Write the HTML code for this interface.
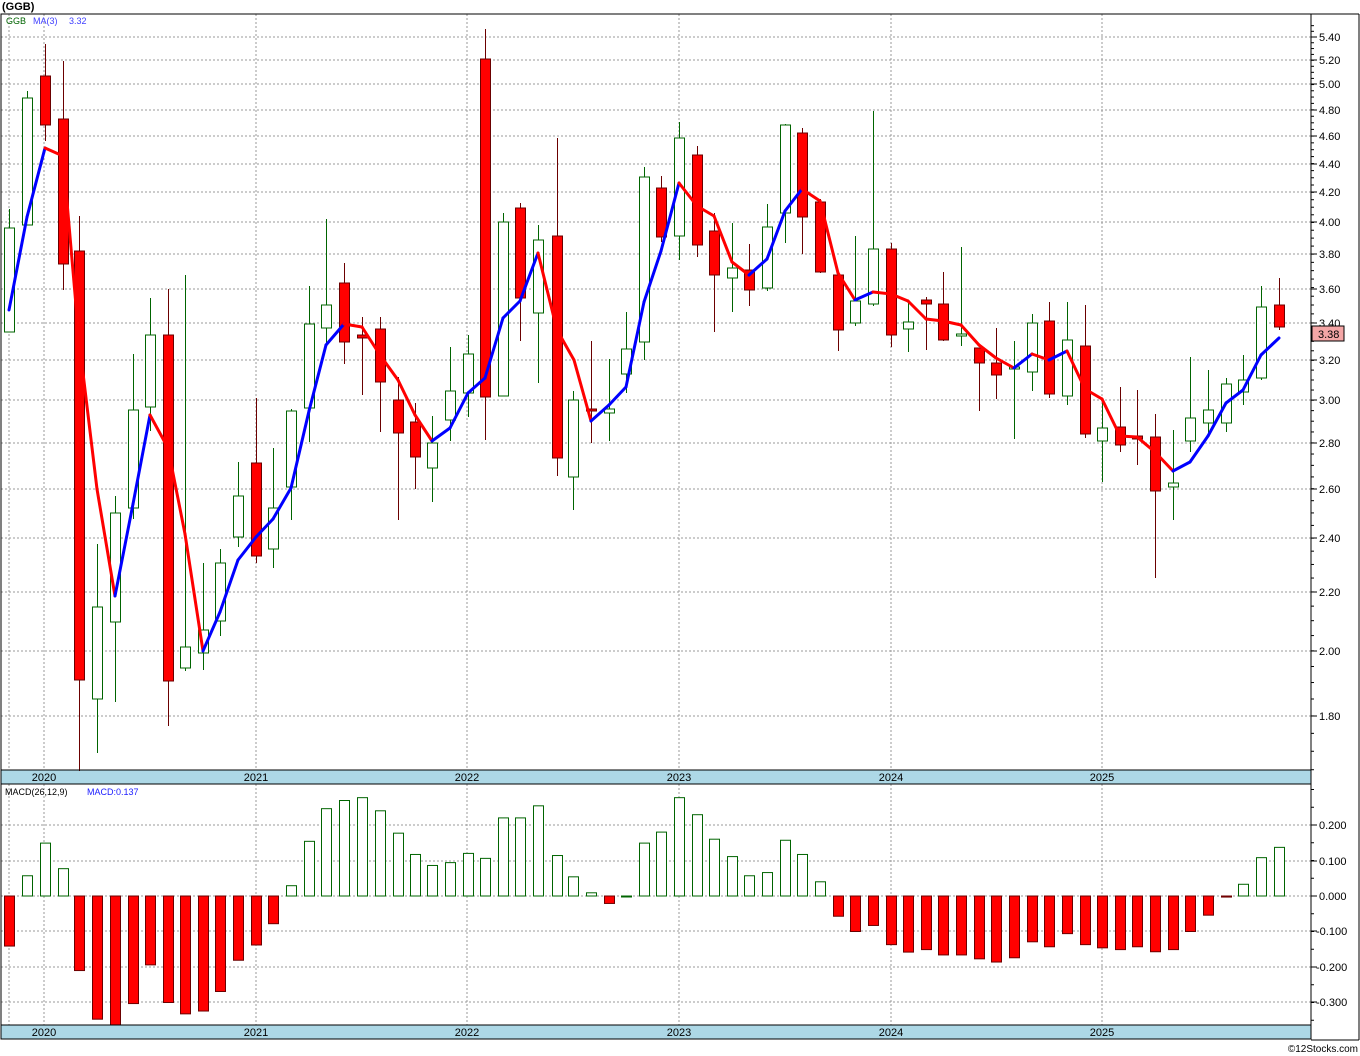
<!DOCTYPE html>
<html><head><meta charset="utf-8"><style>
html,body{margin:0;padding:0;background:#fff;}
svg{display:block;font-family:"Liberation Sans",sans-serif;}
</style></head><body>
<svg id="s" width="1360" height="1056" viewBox="0 0 1360 1056" xmlns="http://www.w3.org/2000/svg">
<rect x="0" y="0" width="1360" height="1056" fill="#fff"/>
<g id="grid"></g>
<g id="bands">
<rect x="1" y="770" width="1310" height="14" fill="#add8e6" stroke="#000" stroke-width="1"/>
<rect x="1" y="1025" width="1310" height="14" fill="#add8e6" stroke="#000" stroke-width="1"/>
</g>
<g id="plot"></g>
<rect x="1" y="14" width="1310" height="756" fill="none" stroke="#000" stroke-width="1"/>
<rect x="1" y="784" width="1310" height="241" fill="none" stroke="#000" stroke-width="1"/>
<line x1="1311" y1="14" x2="1359" y2="14" stroke="#000"/>
<line x1="1359" y1="14" x2="1359" y2="1040" stroke="#000"/>
<line x1="1311" y1="1040" x2="1359" y2="1040" stroke="#000"/>
<g id="ticks"></g>
<text x="2" y="10" font-size="11" font-weight="bold" fill="#000">(GGB)</text>
<text x="6" y="24" font-size="9" fill="#006400">GGB</text>
<text x="33" y="24" font-size="9" fill="#4040ff">MA(3)</text>
<text x="69" y="24" font-size="9" fill="#4040ff">3.32</text>
<text x="5" y="795" font-size="9" fill="#000">MACD(26,12,9)</text>
<text x="87" y="795" font-size="9" fill="#2020ff">MACD:0.137</text>
<g font-size="11" fill="#000" text-anchor="middle">
<text x="44" y="781">2020</text><text x="256" y="781">2021</text><text x="467" y="781">2022</text><text x="679" y="781">2023</text><text x="891" y="781">2024</text><text x="1102" y="781">2025</text>
<text x="44" y="1036">2020</text><text x="256" y="1036">2021</text><text x="467" y="1036">2022</text><text x="679" y="1036">2023</text><text x="891" y="1036">2024</text><text x="1102" y="1036">2025</text>
</g>
<g font-size="11" fill="#000">
<text x="1319" y="41">5.40</text><text x="1319" y="64">5.20</text><text x="1319" y="88">5.00</text><text x="1319" y="114">4.80</text><text x="1319" y="140">4.60</text><text x="1319" y="168">4.40</text><text x="1319" y="196">4.20</text><text x="1319" y="226">4.00</text><text x="1319" y="258">3.80</text><text x="1319" y="293">3.60</text><text x="1319" y="327">3.40</text><text x="1319" y="364">3.20</text><text x="1319" y="404">3.00</text><text x="1319" y="447">2.80</text><text x="1319" y="493">2.60</text><text x="1319" y="542">2.40</text><text x="1319" y="596">2.20</text><text x="1319" y="655">2.00</text><text x="1319" y="720">1.80</text>
<text x="1319" y="829">0.200</text><text x="1319" y="865">0.100</text><text x="1319" y="900">0.000</text><text x="1316" y="935">-0.100</text><text x="1316" y="971">-0.200</text><text x="1316" y="1006">-0.300</text>
</g>
<rect x="1312" y="326" width="32" height="15" fill="#f4a6a6" stroke="#000" stroke-width="1"/>
<text x="1318" y="338" font-size="11" fill="#000">3.38</text>
<text x="1358" y="1052" font-size="10" fill="#000" text-anchor="end">©12Stocks.com</text>
</svg>
<script>
var NS="http://www.w3.org/2000/svg";
function el(p,t,a){var e=document.createElementNS(NS,t);for(var k in a)e.setAttribute(k,a[k]);p.appendChild(e);return e;}
var grid=document.getElementById("grid"),plot=document.getElementById("plot"),ticks=document.getElementById("ticks");
var hy=[37,60,84,110,136,164,192,222,254,289,323,360,400,443,489,538,592,651,716];
hy.forEach(function(y){el(grid,"line",{x1:1,y1:y,x2:1311,y2:y,stroke:"#999","stroke-dasharray":"2,2","stroke-width":1});
el(ticks,"line",{x1:1311,y1:y,x2:1317,y2:y,stroke:"#000"});});
[825,861,896,931,967,1002].forEach(function(y){el(grid,"line",{x1:1,y1:y,x2:1311,y2:y,stroke:"#999","stroke-dasharray":"2,2"});el(ticks,"line",{x1:1311,y1:y,x2:1317,y2:y,stroke:"#000"});});
[9,44,256,467,679,891,1102].forEach(function(x){el(grid,"line",{x1:x,y1:14,x2:x,y2:770,stroke:"#999","stroke-dasharray":"2,2"});el(grid,"line",{x1:x,y1:784,x2:x,y2:1025,stroke:"#999","stroke-dasharray":"2,2"});});
for(var p=1.6;p<=5.5;p+=0.05){var y=37+(Math.log(5.4)-Math.log(p))*618;if(y>14&&y<770)el(ticks,"line",{x1:1311,y1:y,x2:1314,y2:y,stroke:"#000"});}
for(var v=-0.35;v<=0.3;v+=0.05){var y=896-v*355;el(ticks,"line",{x1:1311,y1:y,x2:1314,y2:y,stroke:"#000"});}
var C=[[9,209,228,332,332,'g'],[27,91,98,225,225,'g'],[45,44,76,125,141,'r'],[63,61,119,264,290,'r'],[79,216,251,680,771,'r'],[97,544,607,699,753,'g'],[115,496,513,622,702,'g'],[133,354,410,508,519,'g'],[150,298,335,407,431,'g'],[168,289,335,681,726,'r'],[185,275,647,668,671,'g'],[203,563,630,653,670,'g'],[220,549,563,621,636,'g'],[238,462,496,537,547,'g'],[256,398,463,556,563,'r'],[273,448,508,549,568,'g'],[291,409,411,487,520,'g'],[309,286,324,408,442,'g'],[326,219,305,328,346,'g'],[344,263,283,342,364,'r'],[362,317,335,338,395,'r'],[380,317,329,382,432,'r'],[398,377,400,433,520,'r'],[415,403,422,457,489,'r'],[432,416,443,468,502,'g'],[450,347,391,420,441,'g'],[468,335,354,393,417,'g'],[485,29,59,397,440,'r'],[503,213,222,396,396,'g'],[520,203,208,298,341,'r'],[538,225,240,313,383,'g'],[557,138,236,458,476,'r'],[573,391,400,477,510,'g'],[591,341,409,411,443,'r'],[609,359,409,413,441,'g'],[626,312,349,374,393,'g'],[644,167,177,342,360,'g'],[661,176,188,237,242,'r'],[679,122,138,236,260,'g'],[697,146,155,245,257,'r'],[714,213,231,275,332,'r'],[732,223,268,278,312,'g'],[749,244,270,290,306,'r'],[767,204,227,288,291,'g'],[785,124,125,213,243,'g'],[802,128,133,217,254,'r'],[820,199,202,272,273,'r'],[838,275,275,330,351,'r'],[855,236,301,323,326,'g'],[873,111,249,304,306,'g'],[891,243,249,335,347,'r'],[908,302,322,329,352,'g'],[926,297,300,304,350,'r'],[943,272,304,340,341,'r'],[961,247,334,335,346,'g'],[979,348,348,363,411,'r'],[996,328,363,375,399,'r'],[1014,341,367,368,439,'g'],[1032,314,323,372,391,'g'],[1049,302,321,394,398,'r'],[1067,302,340,396,405,'g'],[1085,305,346,434,438,'r'],[1102,399,428,441,482,'g'],[1120,387,427,445,452,'r'],[1137,390,436,439,465,'r'],[1155,414,437,491,578,'r'],[1173,430,483,487,520,'g'],[1190,357,418,441,452,'g'],[1208,370,410,423,433,'g'],[1226,378,384,423,432,'g'],[1243,355,380,392,405,'g'],[1261,286,307,378,380,'g'],[1279,278,305,327,330,'r']];
C.forEach(function(c){var x=c[0],g=c[5]=='g';var col=g?"#006400":"#6b0000";
el(plot,"line",{x1:x+0.5,y1:c[1],x2:x+0.5,y2:c[4],stroke:col,"stroke-width":1});
var h=Math.max(c[3]-c[2],2);
el(plot,"rect",{x:x-4.5,y:c[2],width:10,height:h,fill:g?"#fff":"#ff0000",stroke:g?"#006400":"#6b0000","stroke-width":1});});
var M=[[9,310],[27,217],[45,148],[63,156],[79,340],[97,489],[115,596],[133,504],[150,415],[168,448],[185,534],[203,651],[220,612],[238,560],[256,537],[273,519],[291,488],[309,411],[326,345],[344,324],[362,327],[380,355],[398,380],[415,415],[432,441],[450,428],[468,393],[485,378],[503,318],[520,301],[538,253],[557,330],[574,360],[591,421],[609,405],[626,387],[644,302],[661,251],[679,183],[697,206],[714,216],[732,262],[749,275],[767,259],[785,211],[802,189],[820,201],[838,273],[855,300],[873,292],[891,294],[908,301],[926,319],[943,321],[961,325],[979,345],[996,358],[1014,368],[1032,354],[1049,360],[1067,351],[1085,389],[1102,399],[1120,436],[1137,437],[1155,452],[1173,471],[1190,462],[1208,436],[1226,403],[1243,390],[1261,355],[1279,338]];
for(var i=1;i<M.length;i++){var d=M[i][1]>M[i-1][1];el(plot,"line",{x1:M[i-1][0],y1:M[i-1][1],x2:M[i][0],y2:M[i][1],stroke:d?"#ff0000":"#0000ff","stroke-width":3,"stroke-linecap":"round"});}
var V=[-0.141,0.057,0.149,0.077,-0.21,-0.347,-0.37,-0.303,-0.194,-0.30,-0.332,-0.324,-0.269,-0.181,-0.138,-0.078,0.029,0.154,0.246,0.269,0.277,0.24,0.177,0.117,0.086,0.094,0.12,0.106,0.22,0.22,0.254,0.114,0.054,0.009,-0.021,0,0.149,0.18,0.277,0.229,0.16,0.111,0.057,0.066,0.157,0.117,0.04,-0.057,-0.1,-0.083,-0.137,-0.158,-0.151,-0.166,-0.166,-0.177,-0.186,-0.174,-0.129,-0.143,-0.106,-0.137,-0.146,-0.151,-0.143,-0.157,-0.151,-0.1,-0.054,-0.003,0.033,0.108,0.137];
V.forEach(function(v,i){var x=C[i][0];var y0=896,y1=896-v*355;if(y1>1025)y1=1025;var t=Math.min(y0,y1),h=Math.max(Math.abs(y1-y0),1);
if(v>=0)el(plot,"rect",{x:x-4.5,y:t,width:10,height:h,fill:"#fff",stroke:"#006400","stroke-width":1});
else el(plot,"rect",{x:x-4.5,y:t,width:10,height:h,fill:"#ff0000",stroke:"#6b0000","stroke-width":1});});
</script>
</body></html>
